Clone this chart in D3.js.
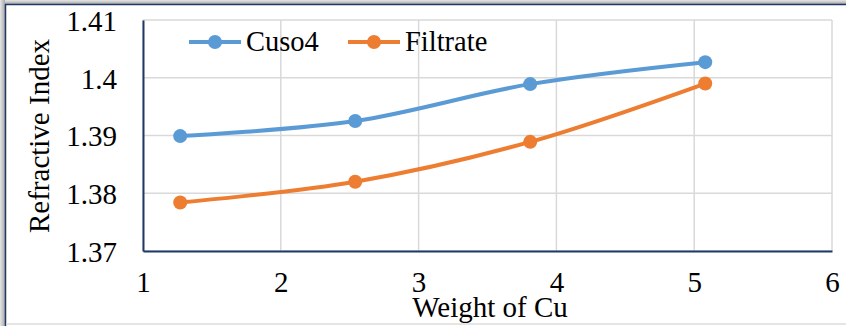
<!DOCTYPE html>
<html>
<head>
<meta charset="utf-8">
<script src="https://cdn.jsdelivr.net/npm/d3@7"></script>
<style>
  html, body { margin: 0; padding: 0; background: #ffffff; }
  svg { display: block; }
</style>
</head>
<body>
<svg id="chart" width="846" height="326"></svg>
<script>
// Weight of Cu (x) and refractive index of each solution
const weights = [1.27, 2.54, 3.81, 5.08];
const cuso4 = [1.3899, 1.3925, 1.3989, 1.4027];
const filtrate = [1.3784, 1.3820, 1.3889, 1.3990];
const seriesNames = ["Cuso4", "Filtrate"];
const seriesColors = ["#5B9BD5", "#ED7D31"];
const xTicks = [1, 2, 3, 4, 5, 6];
const yTicks = [1.37, 1.38, 1.39, 1.40, 1.41];
const yTickLabels = ["1.37", "1.38", "1.39", "1.4", "1.41"];

const FONT = '"Liberation Serif", "DejaVu Serif", serif';
const svg = d3.select("#chart");
const W = 846, H = 326;

// outer frame with a soft shadow on the top and left
const defs = svg.append("defs");
const shade = defs.append("linearGradient")
  .attr("id", "shadeTop").attr("x1", 0).attr("y1", 0).attr("x2", 0).attr("y2", 1);
shade.append("stop").attr("offset", "0%").attr("stop-color", "#e6e6e6");
shade.append("stop").attr("offset", "100%").attr("stop-color", "#a8a8a8");
const shadeL = defs.append("linearGradient")
  .attr("id", "shadeLeft").attr("x1", 0).attr("y1", 0).attr("x2", 1).attr("y2", 0);
shadeL.append("stop").attr("offset", "0%").attr("stop-color", "#e6e6e6");
shadeL.append("stop").attr("offset", "100%").attr("stop-color", "#a8a8a8");
svg.append("rect").attr("x", 0).attr("y", 0).attr("width", W).attr("height", 4).attr("fill", "url(#shadeTop)");
svg.append("rect").attr("x", 0).attr("y", 0).attr("width", 5).attr("height", H).attr("fill", "url(#shadeLeft)");
svg.append("line").attr("x1", 5).attr("x2", W).attr("y1", 4.5).attr("y2", 4.5)
  .attr("stroke", "#1F3864").attr("stroke-width", 1.5);
svg.append("line").attr("x1", 5.5).attr("x2", 5.5).attr("y1", 4).attr("y2", H)
  .attr("stroke", "#1F3864").attr("stroke-width", 1.5);
svg.append("line").attr("x1", 6).attr("x2", W).attr("y1", 324).attr("y2", 324)
  .attr("stroke", "#dcdcdc").attr("stroke-width", 1.5);

// plot area
const plot = { left: 143, right: 832, top: 20, bottom: 251 };
const x = d3.scaleLinear().domain([1, 6]).range([plot.left, plot.right]);
const y = d3.scaleLinear().domain([1.37, 1.41]).range([plot.bottom, plot.top]);

// grid
const grid = svg.append("g");
grid.selectAll(".hg").data(yTicks).join("line")
  .attr("x1", plot.left).attr("x2", plot.right)
  .attr("y1", d => y(d)).attr("y2", d => y(d))
  .attr("stroke", "#d9d9d9").attr("stroke-width", 1.5);
grid.selectAll(".vg").data(xTicks).join("line")
  .attr("x1", d => x(d)).attr("x2", d => x(d))
  .attr("y1", plot.top).attr("y2", plot.bottom)
  .attr("stroke", "#d9d9d9").attr("stroke-width", 1.5);

// axes
const yAxis = d3.axisLeft(y).tickValues(yTicks)
  .tickFormat((d, i) => yTickLabels[i]).tickSize(0).tickPadding(26);
const gy = svg.append("g").attr("transform", `translate(${plot.left},0)`).call(yAxis)
  .attr("font-family", FONT);
gy.select(".domain").attr("stroke", "#1F3864").attr("stroke-width", 2);
gy.selectAll("text").style("font-family", FONT).style("font-size", "29px")
  .attr("fill", "#000").attr("dy", "0.36em");

const xAxis = d3.axisBottom(x).tickValues(xTicks).tickFormat(d3.format("d"))
  .tickSize(0).tickPadding(20);
const gx = svg.append("g").attr("transform", `translate(0,${plot.bottom})`).call(xAxis)
  .attr("font-family", FONT);
gx.select(".domain").attr("stroke", "#1F3864").attr("stroke-width", 2);
gx.selectAll("text").style("font-family", FONT).style("font-size", "29px")
  .attr("fill", "#000").attr("dy", "0.71em");

// axis titles
svg.append("text")
  .attr("transform", `translate(49,136) rotate(-90)`)
  .attr("text-anchor", "middle")
  .style("font-family", FONT).style("font-size", "29px")
  .text("Refractive Index");
svg.append("text")
  .attr("x", 490).attr("y", 317)
  .attr("text-anchor", "middle")
  .style("font-family", FONT).style("font-size", "29px")
  .text("Weight of Cu");

// smoothed series lines with markers
const series = [cuso4, filtrate];
const line = d3.line()
  .x((d, i) => x(weights[i]))
  .y(d => y(d))
  .curve(d3.curveCatmullRom.alpha(0));

series.forEach((vals, s) => {
  svg.append("path").datum(vals)
    .attr("d", line)
    .attr("fill", "none")
    .attr("stroke", seriesColors[s])
    .attr("stroke-width", 4)
    .attr("stroke-linejoin", "round");
  svg.append("g").selectAll("circle").data(vals).join("circle")
    .attr("cx", (d, i) => x(weights[i]))
    .attr("cy", d => y(d))
    .attr("r", 7)
    .attr("fill", seriesColors[s]);
});

// legend
const legendItems = [
  { x0: 189, label: seriesNames[0], color: seriesColors[0] },
  { x0: 348, label: seriesNames[1], color: seriesColors[1] }
];
const lg = svg.append("g");
legendItems.forEach(it => {
  lg.append("line").attr("x1", it.x0).attr("x2", it.x0 + 52)
    .attr("y1", 42).attr("y2", 42)
    .attr("stroke", it.color).attr("stroke-width", 4);
  lg.append("circle").attr("cx", it.x0 + 26).attr("cy", 42).attr("r", 7).attr("fill", it.color);
  lg.append("text").attr("x", it.x0 + 57).attr("y", 51)
    .style("font-family", FONT).style("font-size", "28.5px").text(it.label);
});
</script>
</body>
</html>
